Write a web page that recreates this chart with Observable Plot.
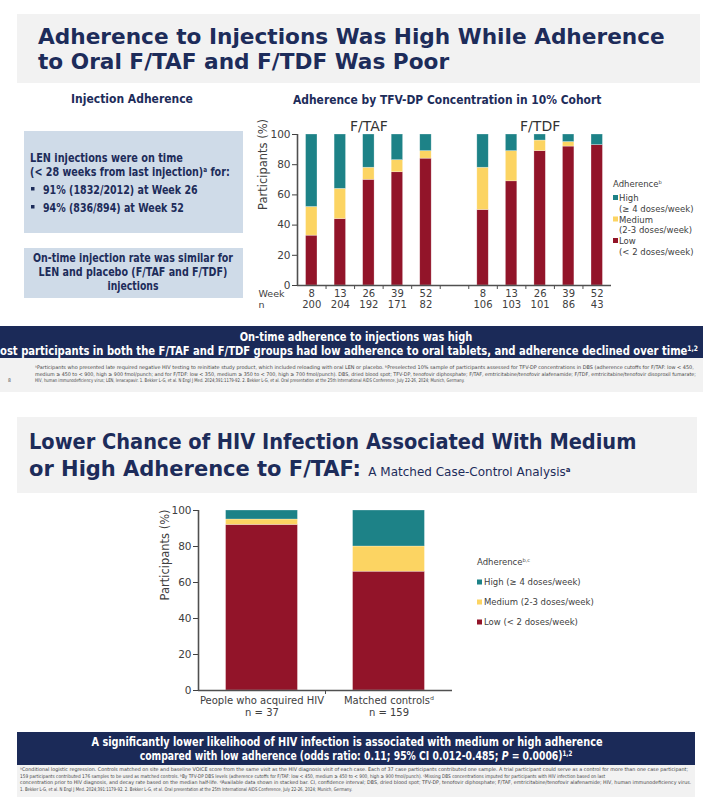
<!DOCTYPE html>
<html><head><meta charset="utf-8">
<script src="https://cdn.jsdelivr.net/npm/d3@7"></script>
<script src="https://cdn.jsdelivr.net/npm/@observablehq/plot@0.6"></script>
<style>
html,body{margin:0;padding:0;background:#fff;}
#page{position:relative;width:727px;height:811px;overflow:hidden;}
.chart{position:absolute;}
#fg{position:absolute;left:0;top:0;pointer-events:none;}
</style></head><body>
<div id="page">
<div id="c1" class="chart" style="left:230px;top:105px"></div>
<div id="c2" class="chart" style="left:130px;top:490px"></div>
<svg id="fg" width="727" height="811"></svg>
</div>
<script>
// ---------- data ----------
const levels = ["High", "Medium", "Low"];
const levelColors = ["#1d8287", "#fcd462", "#921429"];
const yTicks = [0, 20, 40, 60, 80, 100];

const groups = ["F/TAF", "F/TDF"];
const weeks = [8, 13, 26, 39, 52];
const tafN = [200, 204, 192, 171, 82];
const tdfN = [106, 103, 101, 86, 43];
const tafLow = [33, 44, 70, 75, 84];
const tafMedium = [19, 20, 8, 8, 5];
const tafHigh = [48, 36, 22, 17, 11];
const tdfLow = [50, 69, 89, 92, 93];
const tdfMedium = [28, 20, 7, 3, 0];
const tdfHigh = [22, 11, 4, 5, 7];
const rowLabels = ["Week", "n"];

const caseGroups = ["People who acquired HIV", "Matched controls\u1D48"];
const caseN = [37, 159];
const caseLow = [92, 66];
const caseMedium = [3, 14];
const caseHigh = [5, 20];

const legendTop = [["High", "(\u2265 4 doses/week)"], ["Medium", "(2-3 doses/week)"], ["Low", "(< 2 doses/week)"]];
const legendBottom = ["High (\u2265 4 doses/week)", "Medium (2-3 doses/week)", "Low (< 2 doses/week)"];

// ---------- tables ----------
const colorOf = Object.fromEntries(levels.map((l, i) => [l, levelColors[i]]));
function stackRows(low, med, high, posOf, extra) {
  const rows = [];
  low.forEach((_, i) => {
    let base = 0;
    [["Low", low[i]], ["Medium", med[i]], ["High", high[i]]].forEach(([lvl, v]) => {
      rows.push({pos: posOf(i), level: lvl, y1: base, y2: base + v, ...extra(i)});
      base += v;
    });
  });
  return rows;
}
const slotsPerGroup = weeks.length + 1;
const bars1 = [
  ...stackRows(tafLow, tafMedium, tafHigh, i => i + 1, i => ({week: weeks[i], n: tafN[i]})),
  ...stackRows(tdfLow, tdfMedium, tdfHigh, i => slotsPerGroup + i + 1, i => ({week: weeks[i], n: tdfN[i]}))
];
const labels1 = bars1.filter(d => d.level === "Low");
const groupLabels1 = groups.map((g, gi) => ({name: g, pos: gi * slotsPerGroup + (weeks.length + 1) / 2}));
const nSlots1 = slotsPerGroup * groups.length - 1;
const xDom1 = [0.5, nSlots1 + 0.5];
const bounds1 = d3.range(1, nSlots1).map(i => i + 0.5);

const bars2 = stackRows(caseLow, caseMedium, caseHigh, i => i + 1, i => ({name: caseGroups[i], n: caseN[i]}));
const labels2 = bars2.filter(d => d.level === "Low");
const xDom2 = [0.5, caseGroups.length + 0.5];
const bounds2 = d3.range(1, caseGroups.length).map(i => i + 0.5);

const AX = "#505050";
const FONT = "DejaVu Sans";
const LBL = "#404040";

// ---------- chart 1 ----------
const hw1 = 0.2;
const chart1 = Plot.plot({
  width: 400, height: 220,
  marginLeft: 67, marginRight: 19, marginTop: 29, marginBottom: 40,
  style: {fontFamily: FONT, fontSize: "10.5px", color: LBL, background: "transparent", overflow: "visible"},
  x: {domain: xDom1, axis: null},
  y: {domain: [0, 100], ticks: yTicks, tickSize: 5, tickPadding: 2, label: null},
  marks: [
    Plot.rect(bars1, {x1: d => d.pos - hw1, x2: d => d.pos + hw1, y1: "y1", y2: "y2",
      fill: d => colorOf[d.level], stroke: "#ffffff", strokeOpacity: 0.45, strokeWidth: 0.6}),
    Plot.ruleX([xDom1[0]], {stroke: AX, strokeWidth: 1.6}),
    Plot.ruleY([0], {stroke: AX, strokeWidth: 1.6}),
    Plot.ruleX(bounds1, {y1: 0, y2: 0, insetBottom: -4, stroke: AX, strokeWidth: 1}),
    Plot.text(labels1, {x: "pos", frameAnchor: "bottom", text: d => String(d.week), dy: 11, fill: LBL, fontSize: 10}),
    Plot.text(labels1, {x: "pos", frameAnchor: "bottom", text: d => String(d.n), dy: 22, fill: LBL, fontSize: 10}),
    Plot.text([rowLabels[0]], {frameAnchor: "bottom-left", text: d => d, dx: -39, dy: 11, textAnchor: "start", fill: LBL, fontSize: 9.5}),
    Plot.text([rowLabels[1]], {frameAnchor: "bottom-left", text: d => d, dx: -39, dy: 22, textAnchor: "start", fill: LBL, fontSize: 9.5}),
    Plot.text(groupLabels1, {x: "pos", frameAnchor: "top", text: "name", dy: -13, fontSize: 14, fill: "#333"}),
    Plot.text(["Participants (%)"], {frameAnchor: "left", text: d => d, rotate: -90, dx: -34, fontSize: 11.5, fill: LBL})
  ]
});
document.getElementById("c1").appendChild(chart1);

// ---------- chart 2 ----------
const hw2 = 0.283;
const chart2 = Plot.plot({
  width: 340, height: 240,
  marginLeft: 68, marginRight: 18, marginTop: 20, marginBottom: 40,
  style: {fontFamily: FONT, fontSize: "10.5px", color: LBL, background: "transparent", overflow: "visible"},
  x: {domain: xDom2, axis: null},
  y: {domain: [0, 100], ticks: yTicks, tickSize: 5, tickPadding: 2, label: null},
  marks: [
    Plot.rect(bars2, {x1: d => d.pos - hw2, x2: d => d.pos + hw2, y1: "y1", y2: "y2",
      fill: d => colorOf[d.level], stroke: "#ffffff", strokeOpacity: 0.45, strokeWidth: 0.6}),
    Plot.ruleX([xDom2[0]], {stroke: AX, strokeWidth: 1.6}),
    Plot.ruleY([0], {stroke: AX, strokeWidth: 1.6}),
    Plot.ruleX(bounds2, {y1: 0, y2: 0, insetBottom: -4, stroke: AX, strokeWidth: 1}),
    Plot.text(labels2, {x: "pos", frameAnchor: "bottom", text: "name", dy: 13, fill: LBL, fontSize: 10}),
    Plot.text(labels2, {x: "pos", frameAnchor: "bottom", text: d => "n = " + d.n, dy: 25, fill: LBL, fontSize: 10}),
    Plot.text(["Participants (%)"], {frameAnchor: "left", text: d => d, rotate: -90, dx: -33, fontSize: 11.5, fill: LBL})
  ]
});
document.getElementById("c2").appendChild(chart2);

// ---------- slide text & boxes ----------
const NAVY = "#1d2c5a";
const fg = d3.select("#fg");
function box(x, y, w, h, fill) { fg.append("rect").attr("x", x).attr("y", y).attr("width", w).attr("height", h).attr("fill", fill); }
// Text line; if len is given, the line is horizontally scaled (as one unit) to that width.
function txt(x, y, s, o = {}) {
  const size = o.size || 12;
  const t = fg.append("text").attr("x", 0).attr("y", 0)
    .attr("font-family", o.family || "DejaVu Sans Condensed")
    .attr("font-size", size)
    .attr("font-weight", o.weight || "normal")
    .attr("fill", o.fill || NAVY)
    .attr("text-anchor", o.anchor || "start");
  const parts = Array.isArray(s) ? s : [[s]];
  parts.forEach(([str, kind]) => {
    const ts = t.append("tspan").text(str);
    if (kind === "sup") ts.attr("baseline-shift", "super").attr("font-size", o.supSize || size * 0.6);
    if (kind === "i") ts.attr("font-style", "italic");
    if (kind === "small") ts.attr("font-size", o.smallSize).attr("font-weight", "normal");
  });
  let k = 1;
  if (o.len) {
    const w = t.node().getBBox().width;
    if (w > 0) k = o.len / w;
  }
  t.attr("transform", `translate(${x},${y}) scale(${k},1)`);
  return t;
}

// top slide
box(17, 14, 683, 69, "#f2f2f2");
txt(38, 44, "Adherence to Injections Was High While Adherence", {size: 21, weight: "bold", len: 627});
txt(38, 69, "to Oral F/TAF and F/TDF Was Poor", {size: 21, weight: "bold", len: 412});

txt(132, 103, "Injection Adherence", {size: 13, weight: "bold", anchor: "middle", len: 122});
txt(293, 104, "Adherence by TFV-DP Concentration in 10% Cohort", {size: 13, weight: "bold", len: 309});

box(24, 131, 219, 102, "#cfdbe8");
txt(30, 162, "LEN injections were on time", {size: 12, weight: "bold", len: 153});
txt(30, 176, [["(< 28 weeks from last injection)"], ["a", "sup"], [" for:"]], {size: 12, weight: "bold", len: 200});
fg.append("rect").attr("x", 31).attr("y", 187).attr("width", 3.5).attr("height", 3.5).attr("fill", NAVY);
txt(43, 194, "91% (1832/2012) at Week 26", {size: 12, weight: "bold", len: 155});
fg.append("rect").attr("x", 31).attr("y", 205).attr("width", 3.5).attr("height", 3.5).attr("fill", NAVY);
txt(43, 212, "94% (836/894) at Week 52", {size: 12, weight: "bold", len: 141});

box(24, 248, 219, 50, "#cfdbe8");
txt(133, 262, "On-time injection rate was similar for", {size: 12, weight: "bold", anchor: "middle", len: 201});
txt(133, 276, "LEN and placebo (F/TAF and F/TDF)", {size: 12, weight: "bold", anchor: "middle", len: 189});
txt(133, 290, "injections", {size: 12, weight: "bold", anchor: "middle", len: 51});

// legend top
txt(613, 187, [["Adherence"], ["b", "sup"]], {family: FONT, size: 8.5, fill: LBL});
legendTop.forEach(([name, sub], i) => {
  const yc = 198 + i * 21.5;
  fg.append("rect").attr("x", 613).attr("y", yc - 3).attr("width", 5).attr("height", 5).attr("fill", colorOf[name]);
  txt(619, yc + 3, name, {family: FONT, size: 8.5, fill: LBL});
  txt(619, yc + 13.5, sub, {family: FONT, size: 8.5, fill: LBL});
});

// top banner
box(0, 326, 703, 32, "#1b2a58");
txt(356, 341, "On-time adherence to injections was high", {size: 12.5, weight: "bold", fill: "#fff", anchor: "middle", len: 233});
txt(698, 355, [["Most participants in both the F/TAF and F/TDF groups had low adherence to oral tablets, and adherence declined over time"], ["1,2", "sup"]], {size: 12.5, weight: "bold", fill: "#fff", anchor: "end", len: 709});

// top footnotes
box(0, 358, 703, 34, "#f2f2f2");
const fnTop = [
  ["\u1D43Participants who presented late required negative HIV testing to reinitiate study product, which included reloading with oral LEN or placebo. \u1D47Preselected 10% sample of participants assessed for TFV-DP concentrations in DBS (adherence cutoffs for F/TAF: low < 450,", 659],
  ["medium \u2265 450 to < 900, high \u2265 900 fmol/punch; and for F/TDF: low < 350, medium \u2265 350 to < 700, high \u2265 700 fmol/punch). DBS, dried blood spot; TFV-DP, tenofovir diphosphate; F/TAF, emtricitabine/tenofovir alafenamide; F/TDF, emtricitabine/tenofovir disoproxil fumarate;", 662],
  ["HIV, human immunodeficiency virus; LEN, lenacapavir. 1. Bekker L-G, et al. N Engl J Med. 2024;391:1179-92. 2. Bekker L-G, et al. Oral presentation at the 25th International AIDS Conference, July 22-26, 2024; Munich, Germany.", 431]
];
fnTop.forEach(([s, len], i) => txt(35, 369 + i * 6.5, s, {size: 5, fill: "#444", len}));
txt(8, 382, "8", {size: 5, fill: "#444"});

// bottom slide
box(17, 417, 680, 76, "#f2f2f2");
txt(29, 449, "Lower Chance of HIV Infection Associated With Medium", {size: 21, weight: "bold", len: 608});
txt(29, 476, [["or High Adherence to F/TAF: "], ["A Matched Case-Control Analysis", "small"], ["a", "sup"]], {size: 21, weight: "bold", smallSize: 12, supSize: 7, len: 542});

// legend bottom
txt(477, 565, [["Adherence"], ["b,c", "sup"]], {family: FONT, size: 8.5, fill: LBL});
legendBottom.forEach((s, i) => {
  const yc = 582 + i * 20;
  fg.append("rect").attr("x", 477).attr("y", yc - 2.5).attr("width", 5).attr("height", 5).attr("fill", colorOf[levels[i]]);
  txt(484, yc + 3, s, {family: FONT, size: 8.5, fill: LBL});
});

// bottom banner
box(17, 732, 678, 33, "#1b2a58");
txt(347, 746, "A significantly lower likelihood of HIV infection is associated with medium or high adherence", {size: 12.5, weight: "bold", fill: "#fff", anchor: "middle", len: 512});
txt(356, 760, [["compared with low adherence (odds ratio: 0.11; 95% CI 0.012-0.485; "], ["P", "i"], [" = 0.0006)"], ["1,2", "sup"]], {size: 12.5, weight: "bold", fill: "#fff", anchor: "middle", len: 433});

box(17, 765, 678, 32, "#f2f2f2");
const fnBot = [
  ["\u1D43Conditional logistic regression. Controls matched on site and baseline VOICE score from the same visit as the HIV diagnosis visit of each case. Each of 37 case participants contributed one sample. A trial participant could serve as a control for more than one case participant;", 670],
  ["159 participants contributed 176 samples to be used as matched controls. \u1D47By TFV-DP DBS levels (adherence cutoffs for F/TAF: low < 450, medium \u2265 450 to < 900, high \u2265 900 fmol/punch). \u1D9CMissing DBS concentrations imputed for participants with HIV infection based on last", 586],
  ["concentration prior to HIV diagnosis, and decay rate based on the median half-life. \u1D48Available data shown in stacked bar. CI, confidence interval; DBS, dried blood spot; TFV-DP, tenofovir diphosphate; F/TAF, emtricitabine/tenofovir alafenamide; HIV, human immunodeficiency virus.", 672],
  ["1. Bekker L-G, et al. N Engl J Med. 2024;391:1179-92. 2. Bekker L-G, et al. Oral presentation at the 25th International AIDS Conference, July 22-26, 2024; Munich, Germany.", 333]
];
fnBot.forEach(([s, len], i) => txt(20, 771 + i * 6.7, s, {size: 5, fill: "#444", len}));
</script>
</body></html>
